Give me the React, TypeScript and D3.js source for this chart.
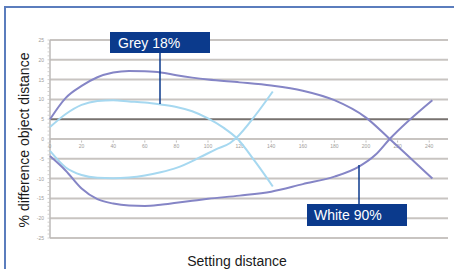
import React, { useEffect, useRef } from "react";
import * as d3 from "d3";

// series (x = setting distance, y = % difference)
const darkUpperX = [0, 10, 20, 30, 40, 50, 60, 70, 80, 90, 100, 120, 140, 160, 180, 200, 215, 242];
const darkUpperY = [5, 10.4, 13.4, 15.6, 16.8, 17.2, 17.1, 16.8, 16.1, 15.5, 15.0, 14.3, 13.5, 12.2, 9.8, 5.4, 0, -10];

const darkLowerX = [0, 10, 20, 30, 40, 50, 60, 70, 80, 90, 100, 120, 140, 160, 180, 195, 206, 215, 242];
const darkLowerY = [-4.3, -8, -12.5, -15.2, -16.3, -16.8, -16.9, -16.6, -16.1, -15.6, -15.1, -14.3, -13.3, -11.4, -9.5, -7.1, -4, 0, 9.8];

const cyanUpperX = [0, 10, 20, 30, 40, 50, 60, 70, 80, 90, 100, 110, 118, 130, 141];
const cyanUpperY = [3, 6.3, 8.6, 9.6, 9.8, 9.5, 9.2, 8.7, 8.1, 7, 5.2, 2.8, 0.3, -5.8, -12];

const cyanLowerX = [0, 10, 20, 30, 40, 50, 60, 70, 80, 95, 105, 114, 118, 130, 141];
const cyanLowerY = [-3, -7.2, -9.1, -9.8, -9.9, -9.7, -9.2, -8.4, -7.3, -4.6, -2.6, -1, 0.3, 6, 12];

const yTicks = [25, 20, 15, 10, 5, 0, -5, -10, -15, -20, -25];
const xTicks = [0, 20, 40, 60, 80, 100, 120, 140, 160, 180, 200, 220, 240];

const W = 454;
const H = 269;

export default function App() {
    const ref = useRef(null);

    useEffect(() => {
        document.body.style.margin = "0";
        const svg = d3.select(ref.current);
        svg.selectAll("*").remove();

        const x = d3.scaleLinear().domain([0, 250]).range([50, 445]);
        const y = d3.scaleLinear().domain([-25, 25]).range([238, 40]);

        // frame (top + left only)
        svg.append("path")
            .attr("d", `M5,${H} L5,7 L${W},7`)
            .attr("fill", "none")
            .attr("stroke", "#5b7dbd")
            .attr("stroke-width", 2);

        // gridlines
        svg.selectAll(".grid")
            .data(yTicks)
            .enter()
            .append("line")
            .attr("x1", 50)
            .attr("x2", 448)
            .attr("y1", d => y(d))
            .attr("y2", d => y(d))
            .attr("stroke", d => d === 5 ? "#77726f" : "#c8c4c1")
            .attr("stroke-width", 2);

        // y axis with minor ticks
        svg.append("line")
            .attr("x1", 50).attr("x2", 50)
            .attr("y1", y(25)).attr("y2", y(-25))
            .attr("stroke", "#bdbab8")
            .attr("stroke-width", 1.5);
        svg.selectAll(".minor")
            .data(d3.range(-25, 26, 1))
            .enter()
            .append("line")
            .attr("x1", 47.5).attr("x2", 50)
            .attr("y1", d => y(d)).attr("y2", d => y(d))
            .attr("stroke", "#c8c5c3")
            .attr("stroke-width", 0.8);
        svg.selectAll(".ylab")
            .data(yTicks)
            .enter()
            .append("text")
            .text(d => d)
            .attr("x", 44)
            .attr("y", d => y(d) + 2)
            .attr("text-anchor", "end")
            .attr("font-family", "Liberation Sans, Arial, sans-serif")
            .attr("font-size", 5)
            .attr("fill", "#a09c9a");

        // x ticks
        svg.selectAll(".xt")
            .data(xTicks)
            .enter()
            .append("line")
            .attr("x1", d => x(d)).attr("x2", d => x(d))
            .attr("y1", 140.5).attr("y2", 142.5)
            .attr("stroke", "#b0acaa")
            .attr("stroke-width", 0.8);
        svg.selectAll(".xlab")
            .data(xTicks)
            .enter()
            .append("text")
            .text(d => d)
            .attr("x", d => x(d))
            .attr("y", 147.5)
            .attr("text-anchor", "middle")
            .attr("font-family", "Liberation Sans, Arial, sans-serif")
            .attr("font-size", 5)
            .attr("fill", "#a09c9a");

        // curves
        const line = d3.line()
            .x(d => x(d[0]))
            .y(d => y(d[1]))
            .curve(d3.curveMonotoneX);
        const series = [
            { xs: cyanUpperX, ys: cyanUpperY, color: "#a6d8f0" },
            { xs: cyanLowerX, ys: cyanLowerY, color: "#a6d8f0" },
            { xs: darkUpperX, ys: darkUpperY, color: "#8585c6" },
            { xs: darkLowerX, ys: darkLowerY, color: "#8585c6" },
        ];
        series.forEach(s => {
            svg.append("path")
                .datum(s.xs.map((v, i) => [v, s.ys[i]]))
                .attr("d", line)
                .attr("fill", "none")
                .attr("stroke", s.color)
                .attr("stroke-width", 2);
        });

        // callouts
        const callouts = [
            { text: "Grey 18%", bx: 110, by: 32, bw: 100, bh: 21, px: 160, py: 104, tx: 118 },
            { text: "White 90%", bx: 307, by: 204, bw: 100, bh: 22, px: 359, py: 165, tx: 314 },
        ];
        callouts.forEach(c => {
            const up = c.py < c.by;
            svg.append("line")
                .attr("x1", c.px).attr("x2", c.px)
                .attr("y1", up ? c.by : c.by + c.bh)
                .attr("y2", c.py)
                .attr("stroke", "#0b3a8c")
                .attr("stroke-width", 1.5);
            svg.append("rect")
                .attr("x", c.bx).attr("y", c.by)
                .attr("width", c.bw).attr("height", c.bh)
                .attr("fill", "#0b3a8c");
            svg.append("text")
                .text(c.text)
                .attr("x", c.tx)
                .attr("y", c.by + c.bh / 2 + 5)
                .attr("font-family", "Liberation Sans, Arial, sans-serif")
                .attr("font-size", 14)
                .attr("fill", "#ffffff");
        });

        // axis titles
        svg.append("text")
            .text("% difference object distance")
            .attr("transform", "translate(29,140) rotate(-90)")
            .attr("text-anchor", "middle")
            .attr("font-family", "Liberation Sans, Arial, sans-serif")
            .attr("font-size", 14)
            .attr("fill", "#1a1a1a");
        svg.append("text")
            .text("Setting distance")
            .attr("x", 237)
            .attr("y", 266)
            .attr("text-anchor", "middle")
            .attr("font-family", "Liberation Sans, Arial, sans-serif")
            .attr("font-size", 14)
            .attr("fill", "#1a1a1a");
    }, []);

    return (
        <svg ref={ref} width={W} height={H} style={{ display: "block", background: "#fff" }} />
    );
}
